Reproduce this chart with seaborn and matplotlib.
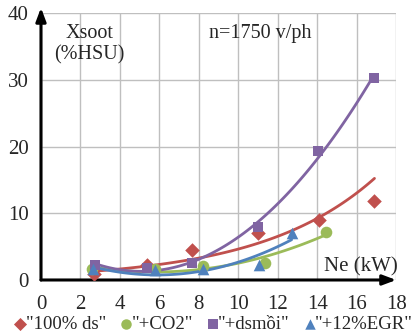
import numpy as np
import pandas as pd
import matplotlib
matplotlib.use("Agg")
import matplotlib.pyplot as plt
import seaborn as sns

# Data
ds_x = [2.7, 5.35, 7.65, 11.0, 14.1, 16.9]
ds_y = [0.9, 2.2, 4.5, 7.0, 9.0, 11.9]
co2_x = [2.6, 5.8, 8.2, 11.35, 14.45]
co2_y = [1.7, 1.6, 2.1, 2.5, 7.2]
mo_x = [2.75, 5.35, 7.65, 11.0, 14.05, 16.85]
mo_y = [2.3, 1.8, 2.5, 7.9, 19.4, 30.2]
egr_x = [2.65, 5.8, 8.2, 11.05, 12.7]
egr_y = [1.6, 1.5, 1.6, 2.2, 7.0]

labels = ['"100% ds"', '"+CO2"', '"+dsmồi"', '"+12%EGR"']
colors = ["#C0504D", "#9BBB59", "#8064A2", "#4F81BD"]
markers = ["D", "o", "s", "^"]
xticks = list(range(0, 19, 2))
yticks = [0, 10, 20, 30, 40]

sns.set_style("white")
plt.rcParams["font.family"] = ["Liberation Serif", "DejaVu Serif"]

fig = plt.figure(figsize=(4.14, 3.36), dpi=100)
ax = fig.add_axes([0.099, 0.1667, 0.858, 0.7943])

series = [(ds_x, ds_y), (co2_x, co2_y), (mo_x, mo_y), (egr_x, egr_y)]

# trendlines
for i, (xs, ys) in enumerate(series):
    if i == 0:
        b, a = np.polyfit(xs, np.log(ys), 1)
        xx = np.linspace(min(xs), max(xs), 100)
        sns.lineplot(x=xx, y=np.exp(a + b * xx), ax=ax, color=colors[i], lw=2, zorder=3)
    else:
        sns.regplot(x=np.array(xs), y=np.array(ys), order=2, ci=None, scatter=False,
                    ax=ax, color=colors[i], line_kws=dict(lw=2, zorder=3))

msizes = [55, 70, 60, 70]
for i, (xs, ys) in enumerate(series):
    sns.scatterplot(x=xs, y=ys, ax=ax, marker=markers[i], color=colors[i], s=msizes[i],
                    edgecolor=colors[i], linewidth=0, zorder=4, label=labels[i])

ax.set_xlim(0, 18)
ax.set_ylim(0, 40)
ax.set_xticks(xticks)
ax.set_yticks(yticks)
ax.grid(True, color="#BFBFBF", lw=1)
ax.set_axisbelow(True)
for s in ["top", "right", "left", "bottom"]:
    ax.spines[s].set_visible(False)
ax.tick_params(axis="both", length=0, labelsize=15)
ax.tick_params(axis="x", pad=11)
ax.tick_params(axis="y", pad=9)
ax.set_xlabel("")
ax.set_ylabel("")

# axis arrows
ax.annotate("", xy=(0, 1.02), xytext=(0, 0), xycoords="axes fraction",
            arrowprops=dict(arrowstyle="-|>,head_length=0.8,head_width=0.3", color="black", lw=2.2,
                            shrinkA=0, shrinkB=0), annotation_clip=False)
ax.annotate("", xy=(1.0, 0), xytext=(0, 0), xycoords="axes fraction",
            arrowprops=dict(arrowstyle="-|>,head_length=0.8,head_width=0.3", color="black", lw=2.2,
                            shrinkA=0, shrinkB=0), annotation_clip=False)

ax.text(2.45, 35.4, "Xsoot\n(%HSU)", ha="center", va="center", fontsize=14.5, linespacing=1.15)
ax.text(11.1, 36.9, "n=1750 v/ph", ha="center", va="center", fontsize=14.5)
ax.text(16.2, 2.0, "Ne (kW)", ha="center", va="center", fontsize=15)

ax.get_legend().remove()
handles, labs = ax.get_legend_handles_labels()
fig.legend(handles, labs, loc="lower left", bbox_to_anchor=(-0.005, -0.025), ncol=4,
           frameon=False, fontsize=13.5, handletextpad=-0.3, columnspacing=0.45,
           handlelength=1.2, markerscale=0.9, borderaxespad=0.2)

fig.savefig("out.png", dpi=100)
